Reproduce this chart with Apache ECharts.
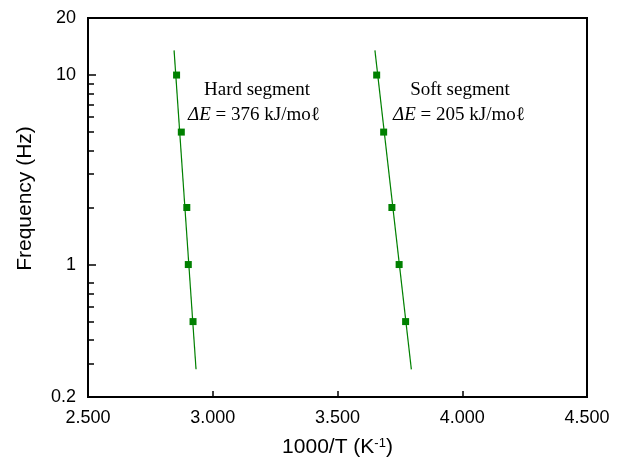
<!DOCTYPE html>
<html>
<head>
<meta charset="utf-8">
<script src="https://cdn.jsdelivr.net/npm/echarts@6/dist/echarts.min.js"></script>
<style>
  html, body { margin: 0; padding: 0; background: #fff; }
  #chart { width: 619px; height: 463px; }
</style>
</head>
<body>
<div id="chart"></div>
<script>
// measured points: frequency (Hz) vs 1000/T
const freqs = [10, 5, 2, 1, 0.5];
const hardX = [2.855, 2.874, 2.896, 2.902, 2.921];
const softX = [3.657, 3.685, 3.718, 3.747, 3.773];

// fitted lines (end points)
const hardFitX = [2.845, 2.933];
const softFitX = [3.650, 3.796];
const fitY = [13.5, 0.28];

const xTicks = [2.5, 3.0, 3.5, 4.0, 4.5];
const yLabels = [0.2, 1, 10, 20];
const yMajorTicks = [1, 10];
const yMinorTicks = [0.3, 0.4, 0.5, 0.6, 0.7, 0.8, 2, 3, 4, 5, 6, 7, 8, 9];

const sans = 'Arial, "Liberation Sans", sans-serif';
const serif = '"Times New Roman", "Liberation Serif", serif';
const green = '#008000';

const pairs = (xs, ys) => xs.map((x, i) => [x, ys[i]]);

const chart = echarts.init(document.getElementById('chart'));

const logAxis = {
  type: 'log',
  logBase: 10,
  min: 0.2,
  max: 20,
  position: 'left',
  splitLine: { show: false },
  axisLine: { show: true, lineStyle: { color: '#000', width: 2 } },
};

chart.setOption({
  animation: false,
  grid: {
    left: 88, right: 32, top: 18, bottom: 60,
    show: true, borderColor: '#000', borderWidth: 2,
  },
  xAxis: {
    type: 'value',
    min: 2.5,
    max: 4.5,
    interval: 0.5,
    name: '1000/T (K{sup|-1})',
    nameLocation: 'middle',
    nameGap: 40,
    nameTextStyle: {
      fontFamily: sans, fontSize: 21, color: '#000',
      rich: { sup: { fontFamily: sans, fontSize: 13, color: '#000', verticalAlign: 'top', padding: [0, 0, 6, 0] } },
    },
    splitLine: { show: false },
    axisLine: { lineStyle: { color: '#000', width: 2 } },
    axisTick: { inside: true, length: 6, lineStyle: { color: '#000', width: 1.5 }, customValues: xTicks },
    axisLabel: {
      fontFamily: sans, fontSize: 18, color: '#000', margin: 12,
      customValues: xTicks,
      formatter: (v) => v.toFixed(3),
    },
  },
  yAxis: [
    Object.assign({}, logAxis, {
      name: 'Frequency (Hz)',
      nameLocation: 'middle',
      nameGap: 52,
      nameRotate: 90,
      nameTextStyle: { fontFamily: sans, fontSize: 21, color: '#000', padding: [0, 0, 0, 18] },
      axisTick: { inside: true, length: 8, lineStyle: { color: '#000', width: 1.5 }, customValues: yMajorTicks },
      axisLabel: {
        fontFamily: sans, fontSize: 18, color: '#000', margin: 12,
        customValues: yLabels,
        formatter: (v) => String(+v.toPrecision(3)),
      },
    }),
    Object.assign({}, logAxis, {
      axisTick: { inside: true, length: 6, lineStyle: { color: '#000', width: 1.5 }, customValues: yMinorTicks },
      axisLabel: { show: false },
    }),
  ],
  series: [
    {
      type: 'line', data: pairs(hardFitX, fitY), showSymbol: false,
      lineStyle: { color: green, width: 1.2 }, z: 2,
    },
    {
      type: 'line', data: pairs(softFitX, fitY), showSymbol: false,
      lineStyle: { color: green, width: 1.2 }, z: 2,
    },
    {
      type: 'scatter', data: pairs(hardX, freqs), symbol: 'rect', symbolSize: 7,
      itemStyle: { color: green, opacity: 1 }, z: 3,
    },
    {
      type: 'scatter', data: pairs(softX, freqs), symbol: 'rect', symbolSize: 7,
      itemStyle: { color: green, opacity: 1 }, z: 3,
    },
  ],
  graphic: [
    { type: 'text', x: 257, y: 90, style: { text: 'Hard segment', font: '19px ' + serif, fill: '#000', align: 'center', verticalAlign: 'middle' } },
    {
      type: 'text', x: 254, y: 115,
      style: {
        text: '{it|ΔE} = 376 kJ/moℓ', font: '19px ' + serif, fill: '#000', align: 'center', verticalAlign: 'middle',
        rich: { it: { fontStyle: 'italic', fontFamily: serif, fontSize: 19, fill: '#000' } },
      },
    },
    { type: 'text', x: 460, y: 90, style: { text: 'Soft segment', font: '19px ' + serif, fill: '#000', align: 'center', verticalAlign: 'middle' } },
    {
      type: 'text', x: 459, y: 115,
      style: {
        text: '{it|ΔE} = 205 kJ/moℓ', font: '19px ' + serif, fill: '#000', align: 'center', verticalAlign: 'middle',
        rich: { it: { fontStyle: 'italic', fontFamily: serif, fontSize: 19, fill: '#000' } },
      },
    },
  ],
});
</script>
</body>
</html>
